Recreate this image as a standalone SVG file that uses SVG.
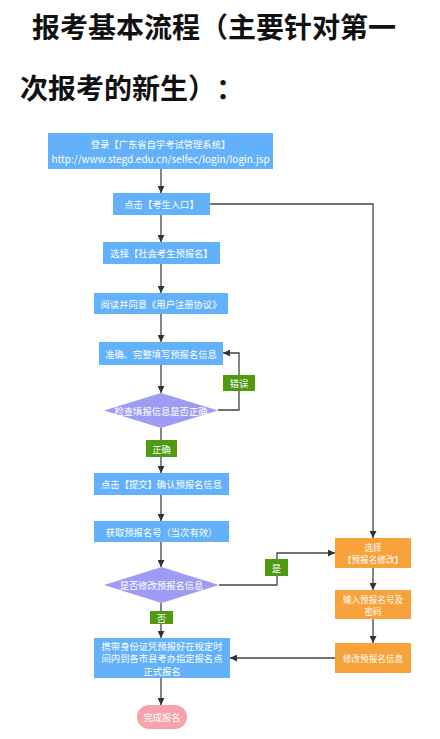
<svg xmlns="http://www.w3.org/2000/svg" width="440" height="739" viewBox="0 0 440 739">
<style>
.t{font-family:"Noto Sans CJK SC","Noto Sans",sans-serif;text-spacing-trim:space-all;}
.title{font-size:28px;font-weight:bold;fill:#111;}
.bx{fill:#62B1FA;}
.or{fill:#F7A23B;}
.dm{fill:#A09CF6;}
.gl{fill:#4F9A10;}
.pk{fill:#F6A3AB;}
.lb{font-size:9.3px;fill:#fff;text-anchor:middle;dominant-baseline:central;}
.sm{font-size:8.6px;}
.url{font-size:10px;}
.ln{fill:none;stroke:#444;stroke-width:1.3;}
</style>
<defs>
<marker id="ah" viewBox="0 0 10 10" refX="10" refY="5" markerWidth="7" markerHeight="7" markerUnits="userSpaceOnUse" orient="auto">
<path d="M0,0 L10,5 L0,10 Z" fill="#333"/>
</marker>
</defs>
<rect width="440" height="739" fill="#fff"/>
<g id="title">
<text class="t title" x="32" y="38">报考基本流程（主要针对第一</text>
<text class="t title" x="20" y="99">次报考的新生）：</text>
</g>
<g id="connectors">
<path class="ln" d="M161,169 V193" marker-end="url(#ah)"/>
<path class="ln" d="M161,215 V242" marker-end="url(#ah)"/>
<path class="ln" d="M161,264 V293" marker-end="url(#ah)"/>
<path class="ln" d="M161,314 V342" marker-end="url(#ah)"/>
<path class="ln" d="M161,365 V393" marker-end="url(#ah)"/>
<path class="ln" d="M218,410 H239 V353 H223" marker-end="url(#ah)"/>
<path class="ln" d="M161,428 V473" marker-end="url(#ah)"/>
<path class="ln" d="M161,495 V521" marker-end="url(#ah)"/>
<path class="ln" d="M161,542 V567" marker-end="url(#ah)"/>
<path class="ln" d="M219,585 H277 V553 H335" marker-end="url(#ah)"/>
<path class="ln" d="M161,603 V638" marker-end="url(#ah)"/>
<path class="ln" d="M210,204 H373 V538" marker-end="url(#ah)"/>
<path class="ln" d="M373,568 V590" marker-end="url(#ah)"/>
<path class="ln" d="M373,619 V643" marker-end="url(#ah)"/>
<path class="ln" d="M335,658 H230" marker-end="url(#ah)"/>
<path class="ln" d="M161,678 V705" marker-end="url(#ah)"/>
</g>
<g id="n1"><rect class="bx" x="48" y="133" width="225" height="36"/>
<text class="t lb" x="160.5" y="144">登录【广东省自学考试管理系统】</text>
<text class="t lb url" x="160.5" y="158">http://www.stegd.edu.cn/selfec/login/login.jsp</text></g>
<g id="n2"><rect class="bx" x="113" y="193" width="97" height="22"/>
<text class="t lb" x="161.5" y="204">点击【考生入口】</text></g>
<g id="n3"><rect class="bx" x="103" y="242" width="117" height="22"/>
<text class="t lb" x="161.5" y="253">选择【社会考生预报名】</text></g>
<g id="n4"><rect class="bx" x="94" y="293" width="134" height="21"/>
<text class="t lb" x="161" y="303.5">阅读并同意《用户注册协议》</text></g>
<g id="n5"><rect class="bx" x="99" y="342" width="124" height="23"/>
<text class="t lb" x="161" y="353.5">准确、完整填写预报名信息</text></g>
<g id="d1"><polygon class="dm" points="161,393 218,410.5 161,428 104,410.5"/>
<text class="t lb" x="161" y="410.5">检查填报信息是否正确</text></g>
<g id="l1"><rect class="gl" x="223" y="375" width="32" height="16"/>
<text class="t lb" x="239" y="383">错误</text></g>
<g id="l2"><rect class="gl" x="146" y="440" width="31" height="17"/>
<text class="t lb" x="161.5" y="448.5">正确</text></g>
<g id="n6"><rect class="bx" x="94" y="473" width="135" height="22"/>
<text class="t lb" x="161.5" y="484">点击【提交】确认预报名信息</text></g>
<g id="n7"><rect class="bx" x="94" y="521" width="135" height="21"/>
<text class="t lb" x="161.5" y="531.5">获取预报名号（当次有效）</text></g>
<g id="d2"><polygon class="dm" points="161.5,567 219,585 161.5,603 104,585"/>
<text class="t lb" x="161.5" y="585">是否修改预报名信息</text></g>
<g id="l3"><rect class="gl" x="265" y="559" width="23" height="17"/>
<text class="t lb" x="276.5" y="567.5">是</text></g>
<g id="l4"><rect class="gl" x="150" y="611" width="23" height="13"/>
<text class="t lb" x="161.5" y="617.5">否</text></g>
<g id="o1"><rect class="or" x="335" y="538" width="76" height="30"/>
<text class="t lb sm" x="373" y="547">选择</text>
<text class="t lb sm" x="373" y="559">【预报名修改】</text></g>
<g id="o2"><rect class="or" x="335" y="590" width="76" height="29"/>
<text class="t lb sm" x="373" y="599">输入预报名号及</text>
<text class="t lb sm" x="373" y="611">密码</text></g>
<g id="o3"><rect class="or" x="335" y="643" width="76" height="30"/>
<text class="t lb sm" x="373" y="658">修改预报名信息</text></g>
<g id="n8"><rect class="bx" x="94" y="638" width="136" height="40"/>
<text class="t lb" x="162" y="645.5">携带身份证凭预报好在规定时</text>
<text class="t lb" x="162" y="658">间内到各市县考办指定报名点</text>
<text class="t lb" x="162" y="670.5">正式报名</text></g>
<g id="n9"><rect class="pk" x="137" y="705" width="50" height="24" rx="12"/>
<text class="t lb" x="162" y="717">完成报名</text></g>
</svg>
